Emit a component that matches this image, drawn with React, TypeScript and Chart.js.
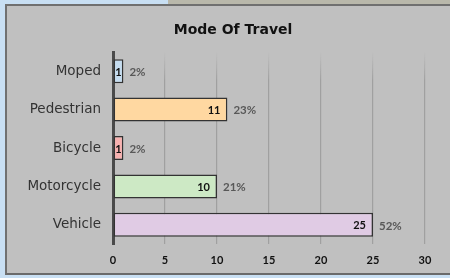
import React, { useEffect, useRef } from "react";
import { Chart, registerables } from "chart.js";

Chart.register(...registerables);

const categories = ["Moped", "Pedestrian", "Bicycle", "Motorcycle", "Vehicle"];
const counts = [1, 11, 1, 10, 25];
const barColors = ["#c5dcef", "#ffd8a1", "#f7b1b0", "#cde9c5", "#e0cbe4"];
const xTicks = [0, 5, 10, 15, 20, 25, 30];
const titleText = "Mode Of Travel";

const FONT = "Lato, 'DejaVu Sans', sans-serif";
const WIDE = "'DejaVu Sans', sans-serif";

const labelPlugin = {
  id: "barLabels",
  afterDatasetsDraw(chart: any) {
    const ctx = chart.ctx;
    const meta = chart.getDatasetMeta(0);
    const total = counts.reduce((a, b) => a + b, 0);
    ctx.save();
    ctx.textBaseline = "middle";
    meta.data.forEach((bar: any, i: number) => {
      const v = counts[i];
      const txt = String(v);
      ctx.font = `bold 11px ${FONT}`;
      const tw = ctx.measureText(txt).width;
      const bw = bar.x - bar.base;
      const off = Math.min(7, Math.max(1.5, (bw - tw) / 2));
      ctx.fillStyle = "#111";
      ctx.textAlign = "right";
      ctx.fillText(txt, bar.x - off, bar.y + 1);
      ctx.font = `bold 11.5px ${FONT}`;
      ctx.fillStyle = "#585858";
      ctx.textAlign = "left";
      ctx.fillText(Math.round((v / total) * 100) + "%", bar.x + 6, bar.y + 1);
    });
    // chart title, centred on the panel
    ctx.font = `bold 14px ${WIDE}`;
    ctx.fillStyle = "#111";
    ctx.textAlign = "center";
    ctx.textBaseline = "middle";
    ctx.fillText(titleText, 226, 24);
    ctx.restore();
  },
};

export default function App() {
  const ref = useRef<HTMLCanvasElement>(null);
  useEffect(() => {
    if (!ref.current) return;
    const chart = new Chart(ref.current, {
      type: "bar",
      data: {
        labels: categories,
        datasets: [
          {
            data: counts,
            backgroundColor: barColors,
            borderColor: "#333333",
            borderWidth: 1.5,
            borderSkipped: false,
            categoryPercentage: 0.8,
            barPercentage: 0.78,
          },
        ],
      },
      options: {
        indexAxis: "y",
        animation: false,
        responsive: false,
        layout: { padding: { left: 0, right: 34, top: 46, bottom: 0 } },
        plugins: {
          legend: { display: false },
          tooltip: { enabled: false },
          title: { display: false },
        },
        scales: {
          x: {
            min: 0,
            max: 30,
            afterFit: (s: any) => {
              s.height = 32;
            },
            afterBuildTicks: (s: any) => {
              s.ticks = xTicks.map((v) => ({ value: v }));
            },
            ticks: {
              color: "#111",
              font: { family: FONT, size: 11, weight: "bold" },
              padding: 10,
            },
            grid: {
              drawTicks: false,
              lineWidth: 1.2,
              color: (c: any) => {
                const { ctx, chartArea } = c.chart;
                if (!chartArea) return "#a5a5a5";
                const g = ctx.createLinearGradient(0, chartArea.top, 0, chartArea.top + 28);
                g.addColorStop(0, "rgba(165,165,165,0)");
                g.addColorStop(1, "rgba(160,160,160,1)");
                return g;
              },
            },
            border: { display: false },
          },
          y: {
            afterFit: (s: any) => {
              s.width = 106;
            },
            ticks: {
              color: "#333",
              font: { family: WIDE, size: 13.5 },
              padding: 12,
            },
            grid: { display: false, drawTicks: false },
            border: { display: true, color: "#4a4a4a", width: 3 },
          },
        },
      },
      plugins: [labelPlugin],
    });
    return () => chart.destroy();
  }, []);

  return (
    <div
      style={{
        position: "absolute",
        left: 0,
        top: 0,
        width: 450,
        height: 278,
        overflow: "hidden",
        background: "#c8dff3",
      }}
    >
      <div style={{ position: "absolute", left: 168, top: 0, width: 282, height: 4, background: "#b9b8ab" }} />
      <div
        style={{
          position: "absolute",
          left: 5,
          top: 4,
          width: 460,
          height: 271,
          background: "#c0c0c0",
          borderTop: "2px solid #707070",
          borderLeft: "2px solid #707070",
          borderBottom: "2px solid #6a6a6a",
          boxSizing: "border-box",
        }}
      />
      <canvas
        ref={ref}
        width={452}
        height={270}
        style={{ position: "absolute", left: 7, top: 6, width: 452, height: 270 }}
      />
    </div>
  );
}
